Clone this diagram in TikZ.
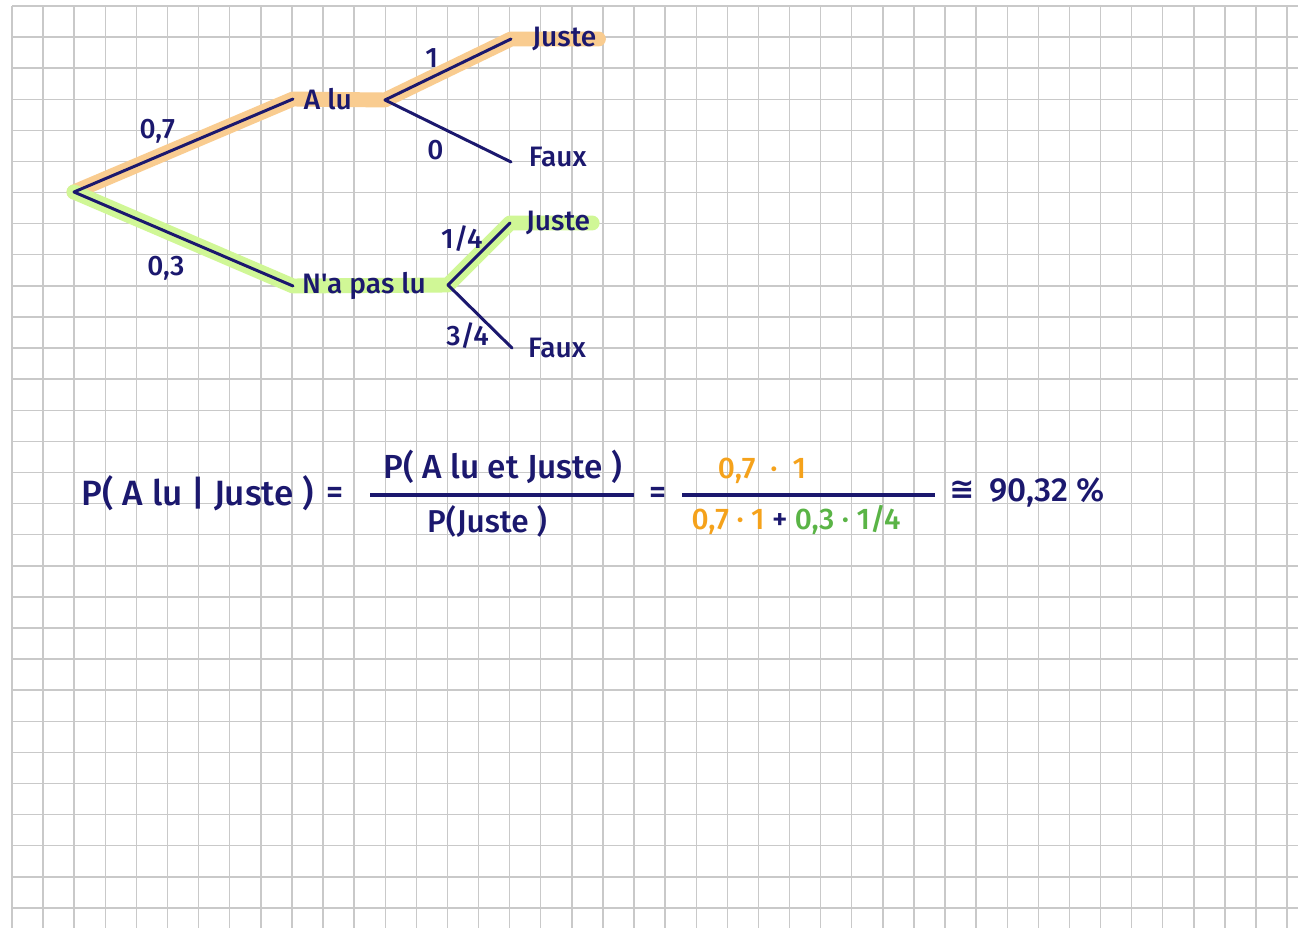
\documentclass[tikz,border=0pt]{standalone}
\usepackage{fontspec}
\setmainfont{Fira Sans Medium}[Ligatures=TeXOff]
\newfontfamily\symfont{DejaVu Sans}
\usetikzlibrary{positioning,backgrounds}
\definecolor{ink}{HTML}{1B186E}
\definecolor{hlorange}{HTML}{F9CC90}
\definecolor{hlgreen}{HTML}{D0F796}
\definecolor{txorange}{HTML}{F5A21B}
\definecolor{txgreen}{HTML}{5AB446}
\definecolor{gridgray}{HTML}{C9C9C9}

\begin{document}
\begin{tikzpicture}[x=0.02cm,y=-0.02cm,
  gridline/.style={gridgray,line width=0.8pt},
  branch/.style={ink,line width=1.7pt,line cap=round},
  hlA/.style={hlorange,line width=8.5pt,line cap=round,line join=round},
  hlB/.style={hlgreen,line width=8.5pt,line cap=round,line join=round},
  leaf/.style={ink,font=\fontsize{16}{16}\selectfont,inner sep=1pt},
  prob/.style={ink,font=\fontsize{16}{16}\selectfont,inner sep=1pt},
  calc/.style={font=\fontsize{17}{17}\selectfont,inner sep=1pt},
  eq/.style={ink,font=\fontsize{19}{19}\selectfont,inner sep=1pt},
  fracbar/.style={ink,line width=1.8pt}]
  \useasboundingbox (0,0) rectangle (1298,928);

  % tree points
  \coordinate (root) at (74,192);
  \coordinate (tA) at (293,99);
  \coordinate (fA) at (385,100);
  \coordinate (tAJ) at (511,39);
  \coordinate (tAF) at (511,162);
  \coordinate (tB) at (293,286);
  \coordinate (fB) at (448,285);
  \coordinate (tBJ) at (510,223);
  \coordinate (tBF) at (512,348);

  % leaves
  \node[leaf,right=5pt of tA] (alu) {A lu};
  \node[leaf,right=11pt of tAJ] (aJ) {Juste};
  \node[leaf,right=9pt of tAF,yshift=3pt] (aF) {Faux};
  \node[leaf,right=4pt of tB] (nlu) {N'a pas lu};
  \node[leaf,right=8pt of tBJ] (bJ) {Juste};
  \node[leaf,right=8pt of tBF] (bF) {Faux};

  \begin{scope}[on background layer]
    \fill[white] (0,0) rectangle (1298,928);
    % squared paper
    \foreach \i in {0,...,41}
      \draw[gridline] ({12+31.1*\i},6) -- ({12+31.1*\i},928);
    \foreach \j in {0,...,29}
      \draw[gridline] (12,{6+31.1*\j}) -- (1298,{6+31.1*\j});
    % highlighted paths
    \draw[hlA] (root) -- (tA) -- (fA) -- (tAJ) -- (aJ.east);
    \draw[hlB] (root) -- (tB) -- (fB) -- (tBJ) -- (bJ.east);
  \end{scope}

  % branches
  \draw[branch] (root) -- node[prob,pos=0.38,above=6pt] {0,7} (tA);
  \draw[branch] (root) -- node[prob,pos=0.42,below=12pt] {0,3} (tB);
  \draw[branch] (fA) -- node[prob,pos=0.37,above=4pt] {1} (tAJ);
  \draw[branch] (fA) -- node[prob,pos=0.4,below=7pt] {0} (tAF);
  \draw[branch] (fB) -- node[prob,pos=0.75,left=5pt] {1/4} (tBJ);
  \draw[branch] (fB) -- node[prob,pos=0.8,left=4pt] {3/4} (tBF);

  % conditional probability
  \node[eq,font=\fontsize{20}{20}\selectfont] (lhs) at (198,493) {P( A lu | Juste )};
  \node[eq] (eqA) at (335,495) {=};
  \coordinate (barAl) at (370,495);
  \coordinate (barAr) at (634,495);
  \draw[fracbar] (barAl) -- (barAr);
  \node[eq] (numA) at (503,467) {P( A lu et Juste )};
  \node[eq,font=\fontsize{18}{18}\selectfont] (denA) at (487,521) {P(Juste )};
  \node[eq] (eqB) at (658,495) {=};
  \coordinate (barBl) at (682,495);
  \coordinate (barBr) at (935,495);
  \draw[fracbar] (barBl) -- (barBr);
  \node[calc,text=txorange] (numB) at (762,471) {0,7 \ · \ 1};
  \node[calc,text=ink] (denB) at (796,520)
    {{\color{txorange}0,7 · 1} + {\color{txgreen}0,3 · 1/4}};
  \node[eq,font=\symfont\bfseries\fontsize{17}{17}\selectfont] (approx) at (962,490) {≅};
  \node[eq] (result) at (1047,492) {90,32 \%};
\end{tikzpicture}
\end{document}
